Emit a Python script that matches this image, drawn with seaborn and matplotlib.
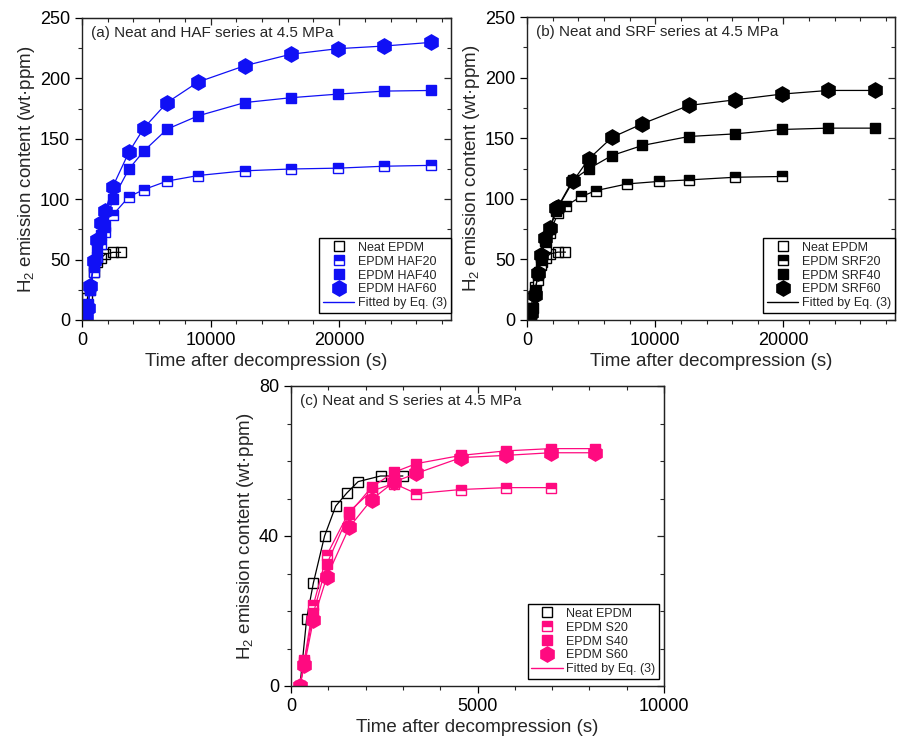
import matplotlib
matplotlib.use('Agg')
import matplotlib.pyplot as plt
import seaborn as sns
from matplotlib.lines import Line2D
from matplotlib.ticker import MultipleLocator, NullFormatter

sns.set_style('ticks')
plt.rcParams['font.family'] = ['Liberation Sans', 'DejaVu Sans']
plt.rcParams['mathtext.fontset'] = 'custom'
plt.rcParams['mathtext.rm'] = 'Liberation Sans'
plt.rcParams['mathtext.it'] = 'Liberation Sans:italic'

# ---------------- data ----------------
neat_t = [240, 420, 600, 900, 1200, 1500, 1800, 2400, 3000]
neat_h = [0, 18, 27.5, 40, 48, 51.5, 54.5, 56, 56]

haf_t = [300, 450, 650, 900, 1200, 1500, 1800, 2400, 3650, 4820, 6620, 9030, 12660, 16240, 19900, 23500, 27130]
haf20_h = [2, 13, 25, 40, 52, 63, 73, 87, 102, 108, 115, 119.6, 123.5, 125, 125.7, 127.3, 128]
haf40_h = [2, 10, 25, 45, 60, 70, 78, 100, 125, 140, 158, 169, 180, 184, 187, 189.5, 190]
haf60_h = [2, 10, 28, 49, 66, 80, 90, 110.5, 139, 159, 180, 197, 210.5, 220, 224.6, 226.8, 229.8]

srf_t = [340, 600, 860, 1120, 1380, 1770, 2290, 2420, 3580, 4800, 6620, 8990, 12620, 16260, 19870, 23500, 27140]
srf40_h = [3, 22, 38, 52, 65, 75, 90, 93.6, 115.6, 124.7, 135.7, 144, 151.4, 153.6, 157.2, 158.3, 158.3]
srf60_h = [5.5, 20.6, 38.5, 53.6, 67.4, 75.6, 92, 93, 114.3, 132.7, 150.6, 161.9, 177, 181.7, 186.4, 189.4, 189.4]
srf20_t = [300, 470, 680, 860, 1120, 1500, 1770, 2420, 3065, 4230, 5400, 7820, 10260, 12620, 16260, 19870]
srf20_h = [2, 10, 25, 33, 45, 60, 72, 88, 94.4, 101.9, 106.8, 112.3, 114.3, 115.6, 117.8, 118.4]

s_t = [240, 360, 600, 960, 1560, 2160, 2760, 3360, 4560, 5760, 6960, 8160]
s20_t = [240, 360, 600, 960, 1560, 2160, 2760, 3360, 4560, 5760, 6960]
s20_h = [0, 7, 21.6, 34.9, 46.5, 52, 54, 51.3, 52.4, 52.9, 52.9]
s40_h = [0, 6.5, 19.4, 32.5, 46, 53, 57, 59.3, 61.5, 62.7, 63.3, 63.3]
s60_h = [0, 5.6, 17.6, 29.1, 42.3, 49.7, 54.4, 56.7, 60.9, 61.5, 62.2, 62.2]

BLUE = '#1010f5'
BLACK = '#000000'
PINK = '#ff0a80'

W, H = 897, 737
fig = plt.figure(figsize=(W / 100, H / 100), dpi=100)


def px_axes(left, right, top, bottom):
    return fig.add_axes([left / W, (H - bottom) / H, (right - left) / W, (bottom - top) / H])


ax_a = px_axes(82, 451, 18, 320)
ax_b = px_axes(527, 895, 17, 320)
ax_c = px_axes(291, 664, 386, 686)


def series(ax, t, h, color, marker, ms, face, fill='full', line_color=None):
    sns.lineplot(x=t, y=h, ax=ax, color=line_color or color, lw=0.9,
                 marker=marker, markersize=ms, markerfacecolor=face,
                 markeredgecolor=color, markeredgewidth=1.0,
                 fillstyle=fill, markerfacecoloralt='white',
                 estimator=None, sort=False, legend=False)


def legend_handles(color, names):
    return [
        Line2D([], [], ls='none', marker='s', ms=6.5, mfc='none', mec=BLACK, mew=1.0),
        Line2D([], [], ls='none', marker='s', ms=6.5, mfc=color, mec=color, mew=1.0,
               fillstyle='top', markerfacecoloralt='white'),
        Line2D([], [], ls='none', marker='s', ms=6.5, mfc=color, mec=color),
        Line2D([], [], ls='none', marker='h', ms=11, mfc=color, mec=color),
        Line2D([], [], color=color, lw=1.0),
    ], names


def style(ax, xmax, xmaj, xmin, ymax, ymaj, ymin, title):
    ax.set_xlim(0, xmax)
    ax.set_ylim(0, ymax)
    ax.xaxis.set_major_locator(MultipleLocator(xmaj))
    ax.xaxis.set_minor_locator(MultipleLocator(xmin))
    ax.yaxis.set_major_locator(MultipleLocator(ymaj))
    ax.yaxis.set_minor_locator(MultipleLocator(ymin))
    ax.tick_params(which='major', direction='out', length=5, width=0.9, labelsize=13, colors='black')
    ax.tick_params(which='minor', direction='out', length=3, width=0.8)
    for sp in ax.spines.values():
        sp.set_visible(True)
        sp.set_color('#222222')
        sp.set_linewidth(1.0)
    sx = ax.secondary_xaxis('top')
    sx.xaxis.set_major_locator(MultipleLocator(xmaj))
    sx.xaxis.set_minor_locator(MultipleLocator(xmin))
    sx.tick_params(which='major', direction='in', length=5, width=0.9, labeltop=False)
    sx.tick_params(which='minor', direction='in', length=3, width=0.8)
    sx.xaxis.set_major_formatter(NullFormatter())
    sy = ax.secondary_yaxis('right')
    sy.yaxis.set_major_locator(MultipleLocator(ymaj))
    sy.yaxis.set_minor_locator(MultipleLocator(ymin))
    sy.tick_params(which='major', direction='in', length=5, width=0.9, labelright=False)
    sy.tick_params(which='minor', direction='in', length=3, width=0.8)
    sy.yaxis.set_major_formatter(NullFormatter())
    ax.set_xlabel('Time after decompression (s)', fontsize=13.5, labelpad=3)
    ax.set_ylabel('H$_2$ emission content (wt·ppm)', fontsize=13.5, labelpad=2)
    ax.text(0.025, 0.95, title, transform=ax.transAxes, fontsize=11, va='center', ha='left')


def add_legend(ax, color, names, bbox):
    handles, labels = legend_handles(color, names)
    leg = ax.legend(handles, labels, loc='lower right', bbox_to_anchor=bbox,
                    fontsize=9, frameon=True, fancybox=False, edgecolor='black',
                    framealpha=1, labelspacing=0.15, handlelength=2.5, handletextpad=0.3,
                    borderpad=0.3, borderaxespad=0.0)
    leg.get_frame().set_linewidth(1.0)


# ---- panel (a) ----
series(ax_a, neat_t, neat_h, BLACK, 's', 6.5, 'none')
series(ax_a, haf_t, haf20_h, BLUE, 's', 6.5, BLUE, fill='top')
series(ax_a, haf_t, haf40_h, BLUE, 's', 6.5, BLUE)
series(ax_a, haf_t, haf60_h, BLUE, 'h', 11, BLUE)
style(ax_a, 28700, 10000, 2000, 250, 50, 25, '(a) Neat and HAF series at 4.5 MPa')
add_legend(ax_a, BLUE, ['Neat EPDM', 'EPDM HAF20', 'EPDM HAF40', 'EPDM HAF60', 'Fitted by Eq. (3)'],
           (1.0, 0.023))

# ---- panel (b) ----
series(ax_b, neat_t, neat_h, BLACK, 's', 6.5, 'none')
series(ax_b, srf20_t, srf20_h, BLACK, 's', 6.5, BLACK, fill='top')
series(ax_b, srf_t, srf40_h, BLACK, 's', 6.5, BLACK)
series(ax_b, srf_t, srf60_h, BLACK, 'h', 11, BLACK)
style(ax_b, 28700, 10000, 2000, 250, 50, 25, '(b) Neat and SRF series at 4.5 MPa')
add_legend(ax_b, BLACK, ['Neat EPDM', 'EPDM SRF20', 'EPDM SRF40', 'EPDM SRF60', 'Fitted by Eq. (3)'],
           (1.0, 0.023))

# ---- panel (c) ----
series(ax_c, neat_t, neat_h, BLACK, 's', 6.5, 'none')
series(ax_c, s20_t, s20_h, PINK, 's', 6.5, PINK, fill='top')
series(ax_c, s_t, s40_h, PINK, 's', 6.5, PINK)
series(ax_c, s_t, s60_h, PINK, 'h', 11, PINK)
style(ax_c, 10000, 5000, 1000, 80, 40, 10, '(c) Neat and S series at 4.5 MPa')
add_legend(ax_c, PINK, ['Neat EPDM', 'EPDM S20', 'EPDM S40', 'EPDM S60', 'Fitted by Eq. (3)'],
           (0.987, 0.023))

fig.savefig('out.png', dpi=100, facecolor='white')
